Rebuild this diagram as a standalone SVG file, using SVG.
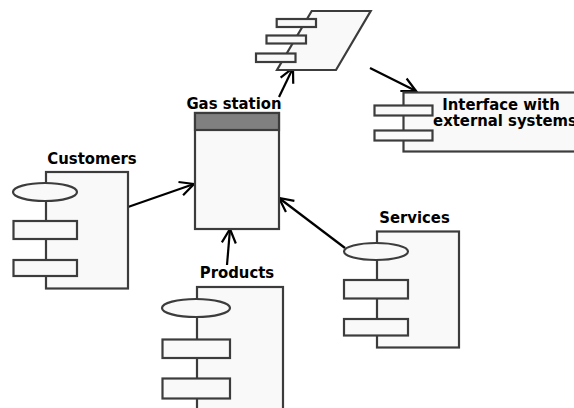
<svg xmlns="http://www.w3.org/2000/svg" width="574" height="408" viewBox="0 0 574 408">
<style>
.s{fill:#f9f9f9;stroke:#3c3c3c;stroke-width:2.2}
.h{fill:#808080;stroke:#3c3c3c;stroke-width:2.2}
.c{fill:none;stroke:#000;stroke-width:2.2}
text{font-family:"DejaVu Sans Condensed","DejaVu Sans",sans-serif;font-weight:bold;font-size:16.5px;fill:#000;text-anchor:middle}
</style>
<defs>
<marker id="a" markerUnits="userSpaceOnUse" markerWidth="20" markerHeight="20" refX="15" refY="10" orient="auto" overflow="visible">
<path d="M1 3L15 10L1 17" fill="none" stroke="#000" stroke-width="2.2"/>
</marker>
</defs>
<rect width="574" height="408" fill="#fff"/>
<g id="connectors">
<line class="c" x1="128" y1="207" x2="194" y2="184" marker-end="url(#a)"/>
<line class="c" x1="227" y1="265" x2="230" y2="229" marker-end="url(#a)"/>
<line class="c" x1="345" y1="248" x2="279" y2="198" marker-end="url(#a)"/>
<line class="c" x1="279" y1="97" x2="293" y2="68" marker-end="url(#a)"/>
<line class="c" x1="370" y1="68" x2="416" y2="91" marker-end="url(#a)"/>
</g>
<g id="gas-station">
<rect class="s" x="195" y="113" width="84" height="116"/>
<rect class="h" x="195" y="113" width="84" height="17"/>
<text x="234" y="109">Gas station</text>
</g>
<g id="external-artifact">
<path class="s" d="M311.7 11H370.7L336 70H277Z"/>
<rect class="s" x="276.7" y="19" width="39.3" height="8"/>
<rect class="s" x="266.5" y="35.5" width="39.5" height="8"/>
<rect class="s" x="256" y="53.5" width="39.5" height="8.5"/>
</g>
<g id="interface">
<rect class="s" x="403.5" y="92.5" width="190" height="59"/>
<rect class="s" x="374.5" y="105.5" width="58" height="10"/>
<rect class="s" x="374.5" y="130.5" width="58" height="10"/>
<text x="501" y="110">Interface with</text>
<text x="505" y="126">external systems</text>
</g>
<g id="customers">
<rect class="s" x="46" y="172" width="82" height="116.5"/>
<ellipse class="s" cx="45" cy="192" rx="32" ry="9"/>
<rect class="s" x="13.5" y="221" width="63.5" height="18"/>
<rect class="s" x="13.5" y="260" width="63.5" height="16"/>
<text x="92" y="164">Customers</text>
</g>
<g id="products">
<rect class="s" x="197" y="287" width="86" height="140"/>
<ellipse class="s" cx="196" cy="308" rx="34" ry="9"/>
<rect class="s" x="162.5" y="339.5" width="67.5" height="18.5"/>
<rect class="s" x="162.5" y="378.5" width="67.5" height="20"/>
<text x="237" y="278">Products</text>
</g>
<g id="services">
<rect class="s" x="377" y="231.5" width="82" height="116"/>
<ellipse class="s" cx="376" cy="251.5" rx="32" ry="8.5"/>
<rect class="s" x="344" y="280" width="64" height="18.5"/>
<rect class="s" x="344" y="319" width="64" height="16.5"/>
<text x="414.500" y="223">Services</text>
</g>
</svg>
